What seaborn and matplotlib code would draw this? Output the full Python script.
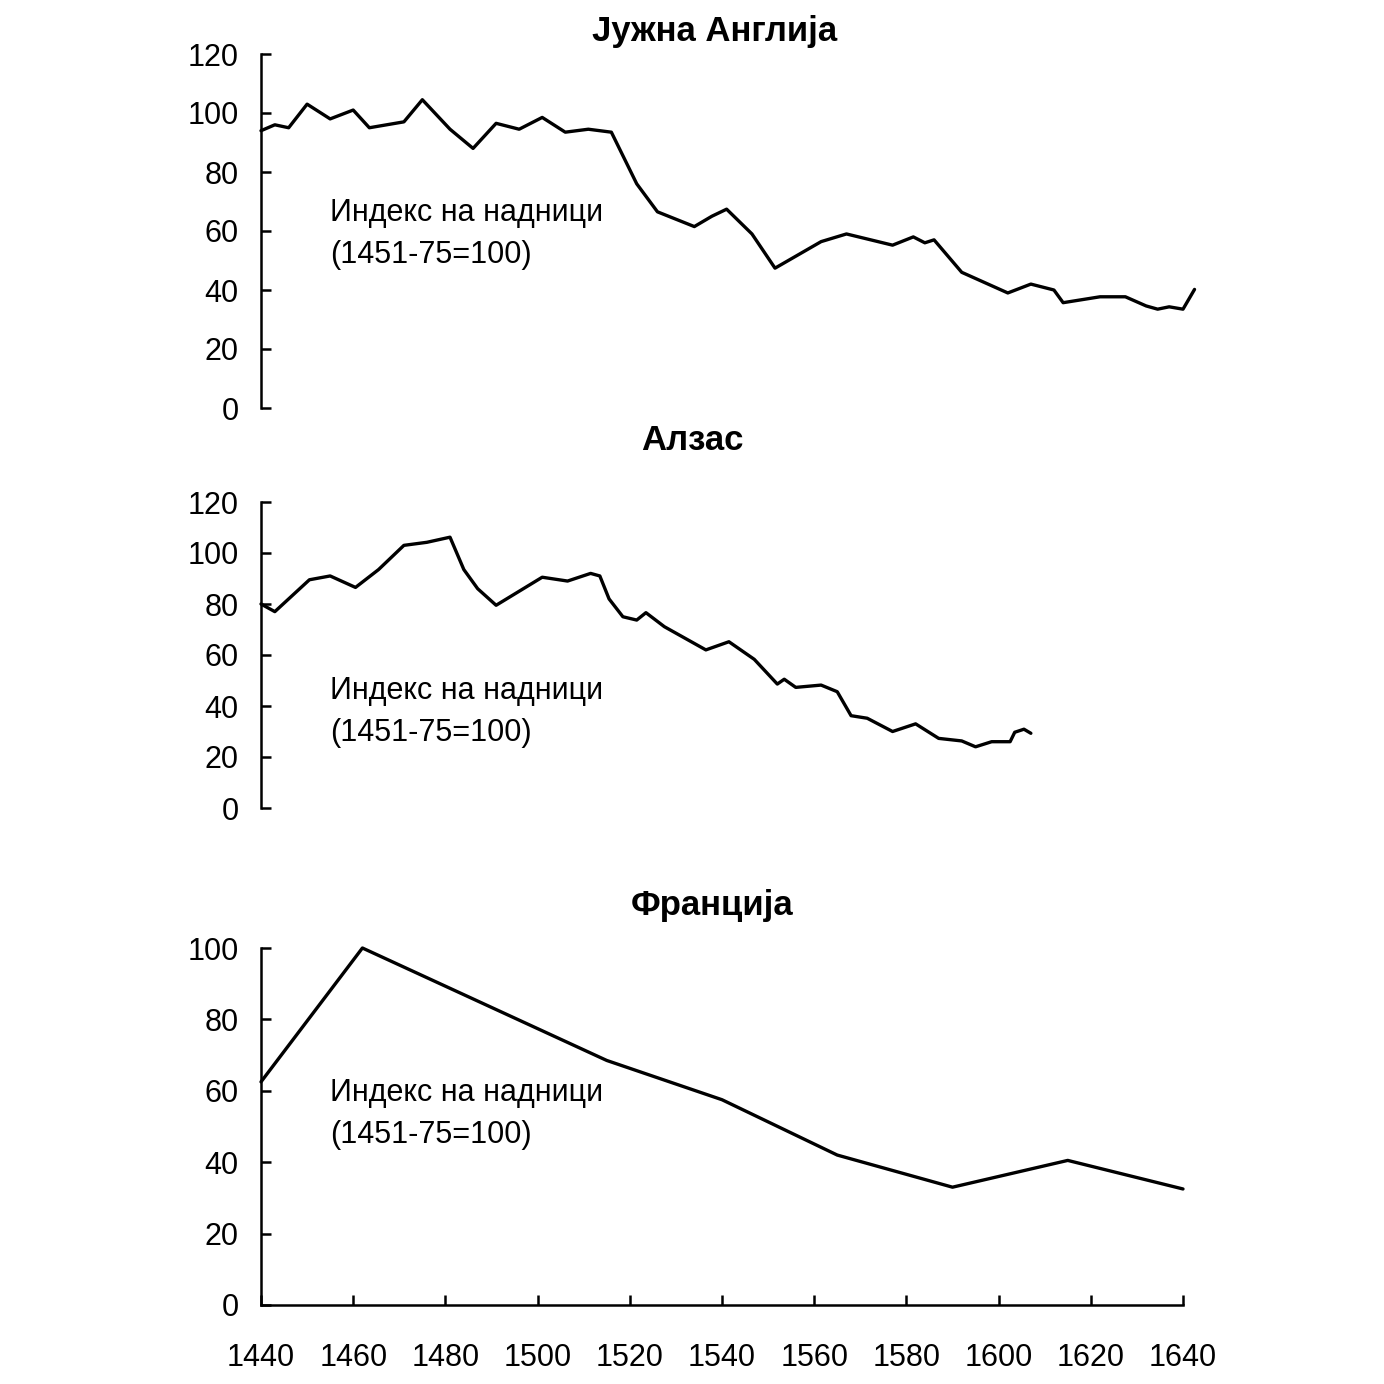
import matplotlib
matplotlib.use("Agg")
import matplotlib.pyplot as plt
import pandas as pd
import seaborn as sns

# Јужна Англија
england_years = [1440, 1443, 1446, 1450, 1455, 1460, 1463.5, 1471, 1475, 1481, 1486, 1491,
                 1496, 1501, 1506, 1511, 1516, 1521.5, 1526, 1534, 1537.8, 1541, 1546.5,
                 1551.5, 1561.5, 1567, 1577, 1581.5, 1584, 1586, 1592, 1602, 1607, 1612,
                 1614, 1622, 1627.5, 1632, 1634.5, 1637, 1640, 1642.5]
england_vals = [94, 96, 95, 103, 98, 101, 95, 97, 104.5, 94.5, 88, 96.5,
                94.5, 98.5, 93.5, 94.5, 93.5, 76, 66.5, 61.5, 65, 67.4, 59,
                47.4, 56.4, 59, 55.2, 58, 56, 57, 46, 39, 42, 40,
                35.7, 37.7, 37.7, 34.6, 33.5, 34.3, 33.5, 40.2]

# Алзас
alsace_years = [1440, 1443, 1450.5, 1455, 1460.5, 1465.5, 1471, 1476, 1481, 1484, 1487, 1491,
                1501, 1506.5, 1511.5, 1513.5, 1515.5, 1518.5, 1521.5, 1523.5, 1527.5, 1536.5,
                1541.5, 1547, 1552, 1553.5, 1556, 1561.5, 1565, 1568, 1571.5, 1577, 1582,
                1587, 1592, 1595, 1598.5, 1602.5, 1603.5, 1605.5, 1607]
alsace_vals = [80, 77, 89.5, 91, 86.5, 93.5, 103, 104.2, 106.2, 93.5, 86, 79.5,
               90.5, 89, 92, 91, 82, 75, 73.7, 76.6, 71.1, 62,
               65.2, 58.3, 48.6, 50.5, 47.3, 48.2, 45.6, 36.2, 35.2, 30, 33,
               27.3, 26.3, 24, 26, 26, 29.7, 30.9, 29.3]

# Франција
france_years = [1440, 1462, 1515, 1540, 1565, 1590, 1615, 1640]
france_vals = [62.5, 100, 68.5, 57.5, 42, 33, 40.5, 32.5]

titles = ["Јужна Англија", "Алзас", "Франција"]
note = "Индекс на надници\n(1451-75=100)"
x_ticks = list(range(1440, 1641, 20))

sns.set_theme(style="white")
plt.rcParams["font.family"] = ["Liberation Sans", "DejaVu Sans"]
plt.rcParams["text.color"] = "black"

W = H = 1384
fig = plt.figure(figsize=(W / 100, H / 100), dpi=100)


def px_axes(left, right, top, bottom):
    return fig.add_axes([left / W, 1 - bottom / H, (right - left) / W, (bottom - top) / H])


panels = [
    dict(ax=px_axes(261, 1183, 54, 408), years=england_years, vals=england_vals,
         ymax=120, note_y=59, title_xy=(715, 32)),
    dict(ax=px_axes(261, 1183, 502, 808), years=alsace_years, vals=alsace_vals,
         ymax=120, note_y=37.6, title_xy=(692, 441)),
    dict(ax=px_axes(261, 1183, 948, 1305), years=france_years, vals=france_vals,
         ymax=100, note_y=53.5, title_xy=(712, 906)),
]

for i, p in enumerate(panels):
    ax = p["ax"]
    df = pd.DataFrame({"year": p["years"], "value": p["vals"]})
    sns.lineplot(data=df, x="year", y="value", ax=ax, color="black", linewidth=2.4,
                 errorbar=None, clip_on=False)
    ax.set_xlim(1440, 1640)
    ax.set_ylim(0, p["ymax"])
    ax.set_yticks(range(0, p["ymax"] + 1, 20))
    ax.set_xlabel("")
    ax.set_ylabel("")
    for s in ["top", "right"]:
        ax.spines[s].set_visible(False)
    for s in ax.spines.values():
        s.set_linewidth(1.8)
        s.set_color("black")
    ax.tick_params(axis="y", direction="in", length=7, width=1.8, pad=16,
                   labelsize=22, colors="black", labelcolor="black", left=True)
    if i < 2:
        ax.spines["bottom"].set_visible(False)
        ax.tick_params(axis="x", bottom=False, labelbottom=False)
    else:
        ax.set_xticks(x_ticks)
        ax.tick_params(axis="x", direction="in", length=7, width=1.8, pad=27,
                       labelsize=22, colors="black", labelcolor="black", bottom=True)
    ax.text(1455, p["note_y"], note, fontsize=22, va="center", ha="left",
            linespacing=1.55, color="black")
    tx, ty = p["title_xy"]
    fig.text(tx / W, 1 - ty / H, titles[i], fontsize=25, fontweight="bold",
             ha="center", va="center", color="black")

fig.savefig("out.png", dpi=100, facecolor="white")
